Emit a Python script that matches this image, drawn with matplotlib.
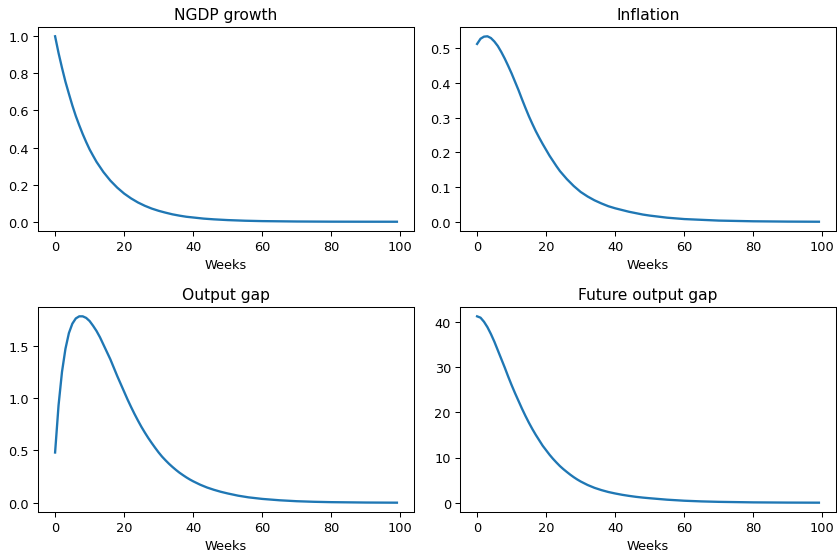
import matplotlib
matplotlib.use("Agg")
import matplotlib.pyplot as plt

# Impulse responses to a one-off nominal shock, sampled at selected weeks
ngdp_weeks = [0, 1, 2, 3, 4, 5, 6, 7, 8, 9, 10, 11, 12, 14, 16, 18, 20, 22, 24,
              26, 28, 30, 32, 34, 36, 38, 40, 43, 46, 50, 55, 60, 70, 80, 90, 99]
ngdp_growth = [1.00, 0.91, 0.83, 0.755, 0.69, 0.627, 0.57, 0.52, 0.473, 0.43,
               0.39, 0.356, 0.323, 0.268, 0.222, 0.184, 0.152, 0.126, 0.104,
               0.086, 0.071, 0.059, 0.049, 0.040, 0.033, 0.027, 0.023, 0.017,
               0.013, 0.009, 0.0056, 0.0035, 0.0014, 0.0005, 0.0002, 0.0001]

infl_weeks = [0, 1, 2, 3, 4, 5, 6, 7, 8, 9, 10, 11, 12, 13, 14, 15, 16, 17, 18,
              19, 20, 21, 22, 23, 24, 26, 28, 30, 32, 34, 36, 38, 40, 42, 44,
              46, 48, 50, 55, 60, 70, 80, 90, 99]
inflation = [0.512, 0.527, 0.533, 0.534, 0.529, 0.519, 0.506, 0.489, 0.470,
             0.449, 0.427, 0.403, 0.379, 0.353, 0.328, 0.304, 0.282, 0.261,
             0.242, 0.224, 0.207, 0.190, 0.175, 0.160, 0.146, 0.123, 0.103,
             0.086, 0.073, 0.062, 0.053, 0.045, 0.039, 0.034, 0.029, 0.025,
             0.021, 0.018, 0.012, 0.008, 0.0036, 0.0016, 0.0007, 0.0003]

gap_weeks = [0, 1, 2, 3, 4, 5, 6, 7, 8, 9, 10, 11, 12, 13, 14, 15, 16, 17, 18,
             19, 20, 21, 22, 23, 24, 25, 26, 27, 28, 29, 30, 31, 32, 33, 34,
             35, 36, 37, 38, 39, 40, 42, 44, 46, 48, 50, 53, 56, 60, 65, 70,
             75, 80, 90, 99]
output_gap = [0.48, 0.93, 1.25, 1.47, 1.62, 1.71, 1.76, 1.78, 1.78, 1.765,
              1.735, 1.69, 1.64, 1.58, 1.51, 1.44, 1.37, 1.29, 1.21, 1.135,
              1.06, 0.985, 0.915, 0.848, 0.785, 0.725, 0.67, 0.618, 0.57,
              0.524, 0.48, 0.44, 0.405, 0.372, 0.342, 0.314, 0.288, 0.265,
              0.243, 0.223, 0.205, 0.173, 0.146, 0.124, 0.105, 0.089, 0.068,
              0.052, 0.037, 0.024, 0.015, 0.0095, 0.006, 0.0024, 0.001]

fgap_weeks = [0, 1, 2, 3, 4, 5, 6, 7, 8, 9, 10, 11, 12, 13, 14, 15, 16, 17, 18,
              19, 20, 21, 22, 23, 24, 25, 26, 27, 28, 29, 30, 32, 34, 36, 38,
              40, 42, 44, 46, 48, 50, 55, 60, 65, 70, 80, 90, 99]
future_output_gap = [41.2, 40.9, 40.0, 38.8, 37.3, 35.6, 33.7, 31.8, 29.9,
                     27.9, 26.0, 24.2, 22.5, 20.8, 19.2, 17.7, 16.3, 15.0,
                     13.8, 12.6, 11.6, 10.6, 9.7, 8.88, 8.1, 7.42, 6.8, 6.2,
                     5.65, 5.15, 4.7, 3.93, 3.3, 2.8, 2.38, 2.05, 1.76, 1.52,
                     1.31, 1.14, 1.0, 0.68, 0.45, 0.3, 0.2, 0.085, 0.036, 0.016]

titles = ["NGDP growth", "Inflation", "Output gap", "Future output gap"]
x_label = "Weeks"

series = [(ngdp_weeks, ngdp_growth), (infl_weeks, inflation),
          (gap_weeks, output_gap), (fgap_weeks, future_output_gap)]

fig = plt.figure(figsize=(9.0, 5.946), dpi=93)

W, H = 837.0, 553.0
# panel boxes in pixels: (left, top, right, bottom)
boxes = [(38, 28, 414, 232), (460, 28, 836, 232),
         (38, 308, 414, 513), (460, 308, 836, 513)]

for (l, t, r, b), (wk, vals), title in zip(boxes, series, titles):
    ax = fig.add_axes([l / W, 1 - b / H, (r - l) / W, (b - t) / H])
    ax.plot(wk, vals, color="C0", linewidth=1.8)
    ax.set_title(title)
    ax.set_xlabel(x_label)
    ax.set_xticks([0, 20, 40, 60, 80, 100])

fig.savefig("out.png", dpi=93)
